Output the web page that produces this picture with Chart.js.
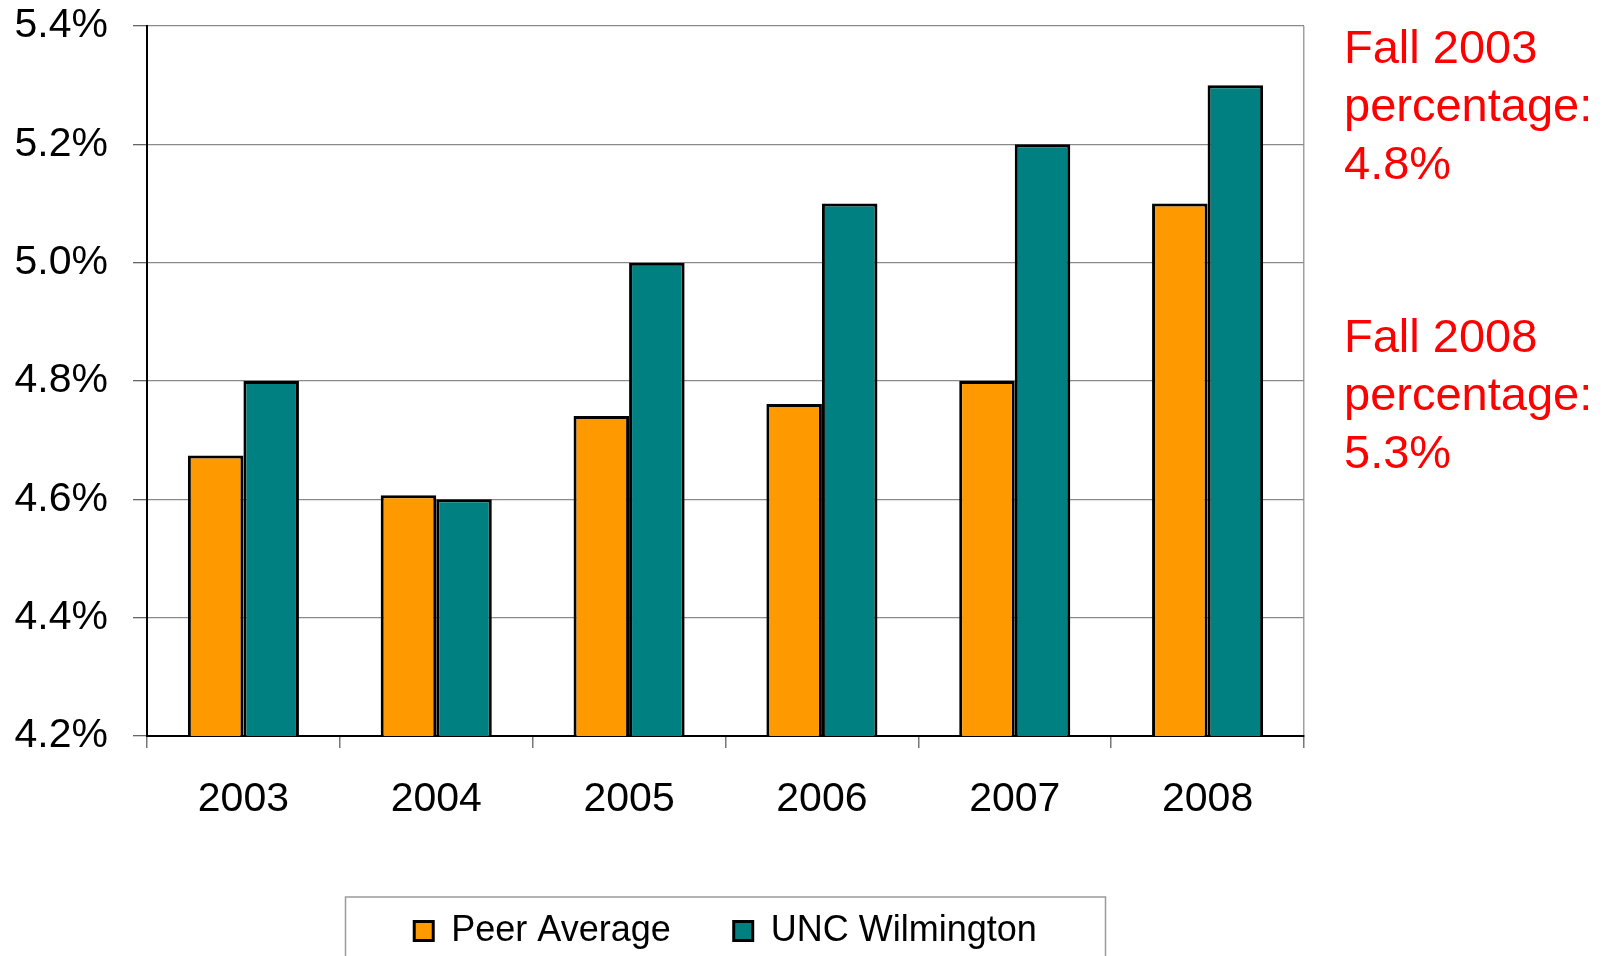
<!DOCTYPE html>
<html lang="en">
<head>
    <meta charset="UTF-8">
    <title>Peer Average vs UNC Wilmington</title>
    <script src="https://cdn.jsdelivr.net/npm/chart.js"></script>
    <style>
        body { margin: 0; background: #fff; }
        #wrap { position: relative; width: 1604px; height: 956px; overflow: hidden; }
        .note {
            position: absolute; left: 1344px; color: #ff0000;
            font-family: "Liberation Sans", Arial, sans-serif;
            font-size: 47px; line-height: 58px; white-space: nowrap;
        }
    </style>
</head>
<body>
<div id="wrap">
    <canvas id="chart"></canvas>
    <div class="note" style="top: 18px;">Fall 2003<br>percentage:<br>4.8%</div>
    <div class="note" style="top: 307px;">Fall 2008<br>percentage:<br>5.3%</div>
</div>

<script>
// data
const years = ['2003', '2004', '2005', '2006', '2007', '2008'];
const peerAverage = [4.674, 4.607, 4.741, 4.761, 4.80, 5.10];
const uncWilmington = [4.80, 4.60, 5.00, 5.10, 5.20, 5.30];
const yMin = 4.2, yMax = 5.4, yStep = 0.2;

const FONT = '"Liberation Sans", Arial, sans-serif';

// border around the legend, like the original
const legendFrame = {
    id: 'legendFrame',
    afterDraw(chart) {
        const { ctx, chartArea, legend } = chart;
        const box = legend.legendHitBoxes[0];
        if (!box) return;
        const cx = (chartArea.left + chartArea.right) / 2;
        const mid = box.top + box.height / 2;
        ctx.save();
        ctx.strokeStyle = '#9a9a9a';
        ctx.lineWidth = 1.5;
        ctx.strokeRect(cx - 380, mid - 34, 760, 120);
        ctx.restore();
    }
};

new Chart(document.getElementById('chart'), {
    type: 'bar',
    data: {
        labels: years,
        datasets: [{
            label: 'Peer Average',
            data: peerAverage,
            backgroundColor: '#ff9900',
            borderColor: '#000',
            borderWidth: 3
        }, {
            label: 'UNC Wilmington',
            data: uncWilmington,
            backgroundColor: '#008080',
            borderColor: '#000',
            borderWidth: 3
        }]
    },
    options: {
        responsive: true,
        maintainAspectRatio: false,
        animation: false,
        layout: { padding: { top: 26, right: 300, bottom: -3, left: 0 } },
        datasets: { bar: { categoryPercentage: 0.576, barPercentage: 1.0 } },
        plugins: {
            tooltip: { enabled: false },
            legend: {
                position: 'bottom',
                fullSize: false,
                labels: {
                    color: '#000',
                    font: { family: FONT, size: 36 },
                    boxWidth: 19,
                    boxHeight: 19,
                    padding: 63
                }
            }
        },
        scales: {
            x: {
                afterFit: s => { s.height = 114; },
                border: { color: '#000', width: 2 },
                grid: {
                    offset: true,
                    color: c => c.type === 'scale' ? '#a0a0a0' : 'rgba(0,0,0,0)',
                    lineWidth: 1.5,
                    tickColor: '#777',
                    tickLength: 12
                },
                ticks: {
                    color: '#000',
                    font: { family: FONT, size: 41 },
                    padding: 27,
                    maxRotation: 0
                }
            },
            y: {
                min: yMin,
                max: yMax,
                afterFit: s => {
                    s.width = 147;
                    s.paddingTop = 0;
                    s.paddingBottom = 0;
                },
                border: { color: '#000', width: 2 },
                grid: {
                    color: '#8a8a8a',
                    lineWidth: 1.3,
                    tickColor: '#666',
                    tickLength: 14
                },
                ticks: {
                    stepSize: yStep,
                    color: '#000',
                    font: { family: FONT, size: 41 },
                    padding: 25,
                    callback: v => (Math.round(v * 10) / 10).toFixed(1) + '%'
                }
            }
        }
    },
    plugins: [legendFrame]
});
</script>
</body>
</html>
